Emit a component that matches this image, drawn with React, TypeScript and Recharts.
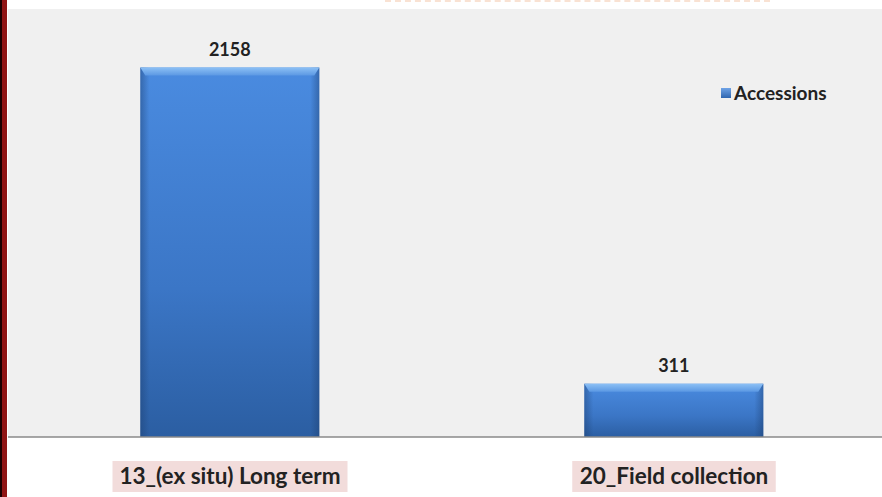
import { Bar, BarChart, CartesianGrid, LabelList, Legend, XAxis, YAxis } from "recharts";

const CATEGORIES = ["13_(ex situ) Long term", "20_Field collection"];
const ACCESSIONS = [2158, 311];
const SERIES_NAME = "Accessions";

const data = CATEGORIES.map((name, i) => ({ name, accessions: ACCESSIONS[i] }));

const FONT = "Lato, 'Open Sans', sans-serif";

function BevelBar(props: any) {
  const { x, y, width, height } = props;
  if (!height || height <= 0) return null;
  const bevel = Math.min(8, height / 4);
  return (
    <g>
      <rect x={x} y={y} width={width} height={height} fill="url(#barBody)" />
      <rect x={x} y={y} width={width} height={height} fill="url(#barSides)" />
      <path
        d={`M${x},${y} L${x + width},${y} L${x + width - 5},${y + bevel} L${x + 5},${y + bevel} Z`}
        fill="url(#barTop)"
      />
    </g>
  );
}

function CategoryTick(props: any) {
  const { x, y, payload } = props;
  const w = payload.value.length * 10.5;
  return (
    <g transform={`translate(${x},${y})`}>
      <rect x={-w / 2 - 2} y={16} width={w + 4} height={31} fill="#f2dcdb" />
      <text
        x={0}
        y={39}
        textAnchor="middle"
        fontFamily={FONT}
        fontWeight={700}
        fontSize={22.5}
        fill="#222"
      >
        {payload.value}
      </text>
    </g>
  );
}

function LegendBox() {
  return (
    <div style={{ display: "flex", alignItems: "center", gap: 3, fontFamily: FONT }}>
      <span
        style={{
          width: 10,
          height: 10,
          background: "linear-gradient(#6fa3e6, #2f66b0)",
          display: "inline-block",
        }}
      />
      <span style={{ fontSize: 19, fontWeight: 700, color: "#222" }}>{SERIES_NAME}</span>
    </div>
  );
}

export default function App() {
  return (
    <div
      style={{
        position: "fixed",
        left: 0,
        top: 0,
        width: 882,
        height: 497,
        overflow: "hidden",
        background: "#fff",
      }}
    >
      <BarChart
        width={882}
        height={497}
        data={data}
        margin={{ top: 9, right: -14, bottom: 10, left: 8 }}
        barCategoryGap="29.8%"
      >
        <defs>
          <linearGradient id="barBody" x1="0" y1="0" x2="0" y2="1">
            <stop offset="0" stopColor="#4a8be0" />
            <stop offset="0.6" stopColor="#3b76c6" />
            <stop offset="1" stopColor="#2b5ea2" />
          </linearGradient>
          <linearGradient id="barSides" x1="0" y1="0" x2="1" y2="0">
            <stop offset="0" stopColor="#1d3f70" stopOpacity={0.45} />
            <stop offset="0.05" stopColor="#1d3f70" stopOpacity={0} />
            <stop offset="0.95" stopColor="#1d3f70" stopOpacity={0} />
            <stop offset="1" stopColor="#1d3f70" stopOpacity={0.45} />
          </linearGradient>
          <linearGradient id="barTop" x1="0" y1="0" x2="0" y2="1">
            <stop offset="0" stopColor="#8cc0f5" />
            <stop offset="1" stopColor="#5b98e3" />
          </linearGradient>
        </defs>
        <CartesianGrid fill="#f0f0f0" stroke="none" horizontal={false} vertical={false} />
        <XAxis
          dataKey="name"
          height={50}
          axisLine={{ stroke: "#8a8a8a", strokeWidth: 1.5 }}
          tickLine={false}
          tick={<CategoryTick />}
          interval={0}
        />
        <YAxis hide domain={[0, 2500]} />
        <Legend
          layout="horizontal"
          verticalAlign="middle"
          align="center"
          content={<LegendBox />}
          wrapperStyle={{ position: "absolute", left: 721, top: 81, width: 130 }}
        />
        <Bar
          dataKey="accessions"
          name={SERIES_NAME}
          shape={<BevelBar />}
          isAnimationActive={false}
        >
          <LabelList
            dataKey="accessions"
            position="top"
            offset={12}
            fontFamily={FONT}
            fontWeight={700}
            fontSize={18}
            fill="#222"
          />
        </Bar>
      </BarChart>
      {/* dark red frame edge on the left */}
      <div
        style={{
          position: "absolute",
          left: 0,
          top: 0,
          width: 7,
          height: 497,
          zIndex: 5,
          background: "#8f1414",
          borderLeft: "2px solid #1a0000",
          boxSizing: "border-box",
        }}
      />
      {/* remains of a cut-off title underline */}
      <div
        style={{
          position: "absolute",
          left: 385,
          top: 0,
          width: 385,
          height: 0,
          zIndex: 5,
          borderTop: "2px dashed #f9e2d3",
        }}
      />
    </div>
  );
}
